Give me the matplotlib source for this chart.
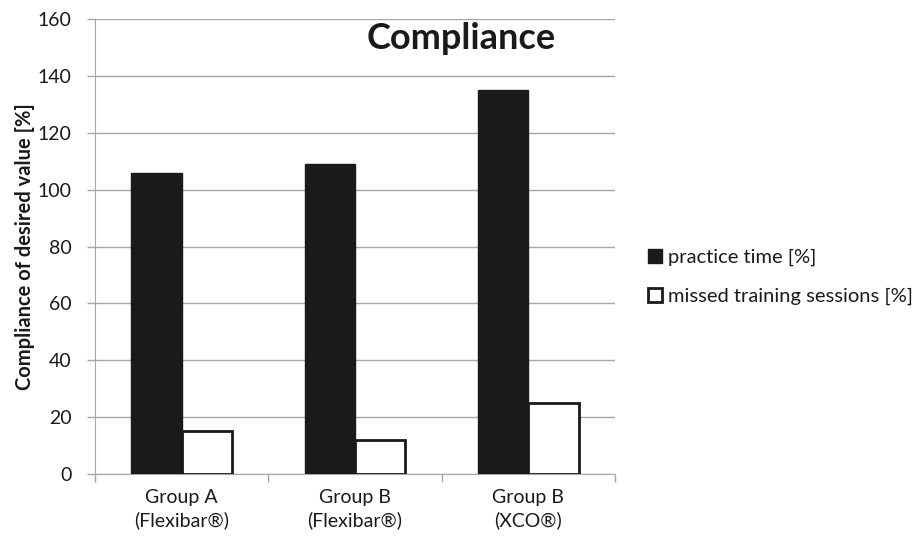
import matplotlib
matplotlib.use("Agg")
import matplotlib.pyplot as plt
import numpy as np

plt.rcParams['font.family'] = ['Lato', 'DejaVu Sans']

groups = ["Group A\n(Flexibar\u00ae)", "Group B\n(Flexibar\u00ae)", "Group B\n(XCO\u00ae)"]
practice_time = [106, 109, 135]
missed_sessions = [15, 12, 25]
y_ticks = [0, 20, 40, 60, 80, 100, 120, 140, 160]

fig = plt.figure(figsize=(9.22, 5.43), dpi=100)
ax = fig.add_axes([0.103, 0.127, 0.564, 0.838])

x = np.arange(len(groups))
w = 0.29
grid_c = "#a6a6a6"
ink = "#1a1a1a"

ax.bar(x - w / 2, practice_time, width=w, color=ink, edgecolor=ink,
       linewidth=1, label="practice time [%]", zorder=3)
ax.bar(x + w / 2, missed_sessions, width=w, color="white", edgecolor=ink,
       linewidth=2, label="missed training sessions [%]", zorder=3)

ax.set_xlim(-0.5, 2.5)
ax.set_ylim(0, 160)
ax.set_yticks(y_ticks)
ax.yaxis.grid(True, color=grid_c, linewidth=1, zorder=0)
ax.set_axisbelow(True)

# category labels centred, tick marks on group boundaries
ax.set_xticks(x)
ax.set_xticklabels(groups, fontsize=14, color=ink, linespacing=1.3)
ax.tick_params(axis="x", length=0, pad=11)
ax.set_xticks([-0.5, 0.5, 1.5, 2.5], minor=True)
ax.tick_params(axis="x", which="minor", length=6, color=grid_c, width=1)
ax.tick_params(axis="y", length=6, color=grid_c, width=1, labelsize=14,
               labelcolor=ink, pad=11)

for s in ["top", "right"]:
    ax.spines[s].set_visible(False)
ax.spines["left"].set_color(grid_c)
ax.spines["bottom"].set_color(grid_c)
ax.spines["left"].set_bounds(-2.2, 160)

ax.set_ylabel("Compliance of desired value [%]", fontsize=14.5, fontweight="bold",
              color=ink, labelpad=2)

ax.text(0.704, 0.958, "Compliance", transform=ax.transAxes, ha="center", va="center",
        fontsize=26, fontweight="bold", color=ink)

leg = fig.legend(loc="center left", bbox_to_anchor=(0.694, 0.490), frameon=False,
                 fontsize=14.5, handlelength=0.7, handleheight=0.7, handletextpad=0.3,
                 labelspacing=1.05, borderaxespad=0)
for t in leg.get_texts():
    t.set_color(ink)

fig.savefig("out.png", dpi=100)
